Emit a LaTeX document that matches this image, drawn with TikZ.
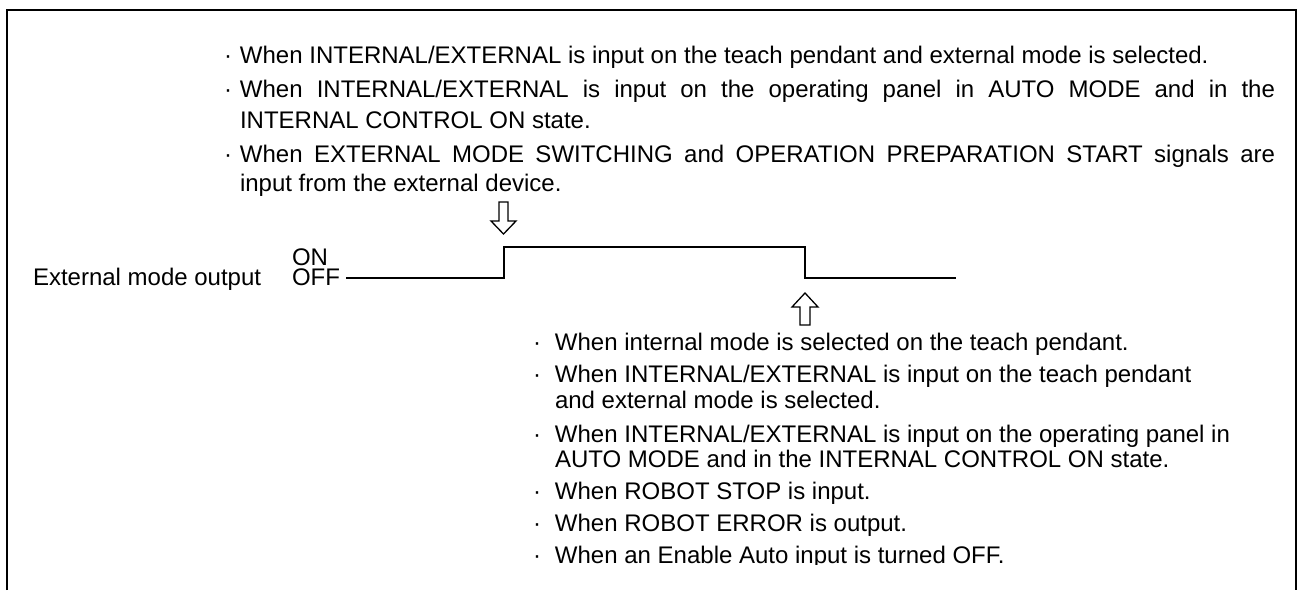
\documentclass[tikz,border=0pt]{standalone}
\usepackage{fontspec}
\setmainfont{Liberation Sans}
\begin{document}
\begin{tikzpicture}[x=1pt,y=-1pt,
  txt/.style={inner sep=0pt, outer sep=0pt, anchor=base west, font=\fontsize{24}{28}\selectfont},
  wave/.style={line width=1.5pt},
  frame/.style={line width=2pt},
  hollow/.style={draw, line width=1.3pt, fill=white, line join=miter}]
\useasboundingbox (0,0) rectangle (1300,590);
% frame (open at the bottom)
\draw[frame] (7,590) -- (7,10) -- (1295.5,10) -- (1295.5,590);

\begin{scope}
\clip (0,0) rectangle (1300,564);
% upper conditions
\node[txt] (tb1) at (224,63) {\makebox[16pt][l]{·}When INTERNAL/EXTERNAL is input on the teach pendant and external mode is selected.};
\node[txt] (tb2) at (224,97) {\makebox[16pt][l]{·}\makebox[1035pt][s]{When INTERNAL/EXTERNAL is input on the operating panel in AUTO MODE and in the}};
\node[txt] (tb2b) at (240,128) {INTERNAL CONTROL ON state.};
\node[txt] (tb3) at (224,162) {\makebox[16pt][l]{·}\makebox[1035pt][s]{When EXTERNAL MODE SWITCHING and OPERATION PREPARATION START signals are}};
\node[txt] (tb3b) at (240,191) {input from the external device.};

% signal labels
\node[txt] (lab) at (33,285) {External mode output};
\node[txt] (onoff) at (292,285) {\shortstack[l]{ON\\OFF}};

% lower conditions
\node[txt] (bb1) at (533,350) {\makebox[22pt][l]{·}When internal mode is selected on the teach pendant.};
\node[txt] (bb2) at (533,382) {\makebox[22pt][l]{·}When INTERNAL/EXTERNAL is input on the teach pendant};
\node[txt] (bb2b) at (555,408) {and external mode is selected.};
\node[txt] (bb3) at (533,442) {\makebox[22pt][l]{·}When INTERNAL/EXTERNAL is input on the operating panel in};
\node[txt] (bb3b) at (555,467) {AUTO MODE and in the INTERNAL CONTROL ON state.};
\node[txt] (bb4) at (533,499) {\makebox[22pt][l]{·}When ROBOT STOP is input.};
\node[txt] (bb5) at (533,531) {\makebox[22pt][l]{·}When ROBOT ERROR is output.};
\node[txt] (bb6) at (533,563) {\makebox[22pt][l]{·}When an Enable Auto input is turned OFF.};
\end{scope}

% waveform
\coordinate (w0) at (346,278);
\coordinate (w1) at (504,278);
\coordinate (w2) at (504,247);
\coordinate (w3) at (805,247);
\coordinate (w4) at (805,278);
\coordinate (w5) at (956,278);
\draw[wave] (w0) -- (w1) -- (w2) -- (w3) -- (w4) -- (w5);

% hollow arrows
\draw[hollow] (499,202) -- (508,202) -- (508,221) -- (516,221) -- (503.5,234) -- (491,221) -- (499,221) -- cycle;
\draw[hollow] (800,325) -- (810,325) -- (810,307) -- (818,307) -- (805,293) -- (792,307) -- (800,307) -- cycle;
\end{tikzpicture}
\end{document}
